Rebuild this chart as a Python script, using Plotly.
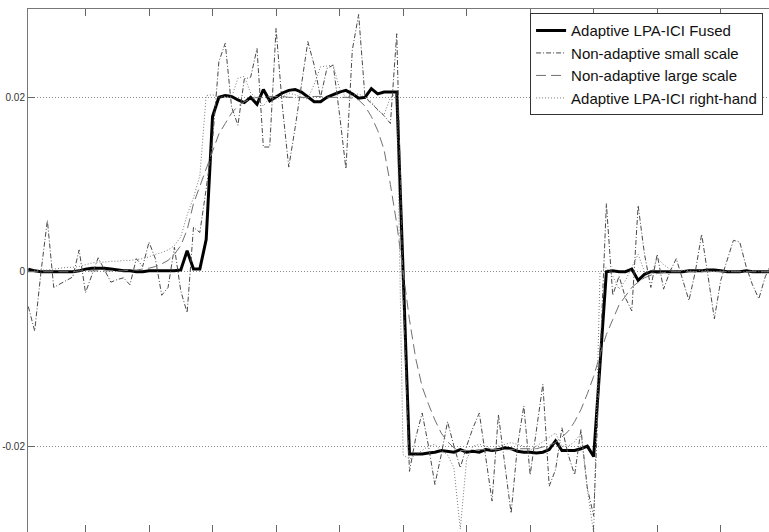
import plotly.graph_objects as go

# ---- data (sample index 1..118) ----
fused = [0.0003, 0.0001, 0.0000, 0.0000, 0.0000, 0.0000, 0.0000, 0.0000, 0.0001, 0.0003,
         0.0004, 0.0004, 0.0004, 0.0003, 0.0002, 0.0001, 0.0001, 0.0000, 0.0000, 0.0001,
         0.0001, 0.0001, 0.0001, 0.0001, 0.0002, 0.0024, 0.0003, 0.0003, 0.0037, 0.0178,
         0.0200, 0.0202, 0.0201, 0.0197, 0.0194, 0.0200, 0.0192, 0.0209, 0.0196, 0.0201,
         0.0205, 0.0208, 0.0209, 0.0206, 0.0200, 0.0195, 0.0195, 0.0200, 0.0203, 0.0206,
         0.0208, 0.0204, 0.0199, 0.0200, 0.0210, 0.0204, 0.0206, 0.0206, 0.0206, 0.0000,
         -0.0209, -0.0209, -0.0209, -0.0208, -0.0207, -0.0205, -0.0206, -0.0207, -0.0204, -0.0207,
         -0.0206, -0.0207, -0.0204, -0.0205, -0.0204, -0.0202, -0.0203, -0.0206, -0.0207, -0.0207,
         -0.0208, -0.0207, -0.0204, -0.0194, -0.0205, -0.0205, -0.0205, -0.0203, -0.0200, -0.0212,
         -0.0105, 0.0000, 0.0001, 0.0000, 0.0000, 0.0003, -0.0010, -0.0003, 0.0000, 0.0000,
         0.0000, 0.0000, 0.0000, 0.0000, 0.0001, 0.0001, 0.0001, 0.0002, 0.0002, 0.0001,
         0.0000, 0.0000, 0.0000, 0.0001, 0.0000, 0.0000, 0.0000, 0.0000]

small_scale = [-0.0040, -0.0068, 0.0000, 0.0059, -0.0018, -0.0014, -0.0010, -0.0006, 0.0025, -0.0024,
               -0.0004, 0.0016, 0.0002, -0.0012, -0.0009, -0.0007, -0.0015, 0.0015, 0.0006, 0.0034,
               0.0015, -0.0027, -0.0018, 0.0028, -0.0022, -0.0047, 0.0051, 0.0045, 0.0095, 0.0150,
               0.0241, 0.0262, 0.0189, 0.0168, 0.0221, 0.0223, 0.0256, 0.0143, 0.0143, 0.0279,
               0.0189, 0.0120, 0.0165, 0.0215, 0.0264, 0.0237, 0.0200, 0.0233, 0.0237, 0.0180,
               0.0118, 0.0254, 0.0295, 0.0200, 0.0193, 0.0185, 0.0179, 0.0170, 0.0273, -0.0020,
               -0.0229, -0.0190, -0.0162, -0.0200, -0.0244, -0.0210, -0.0172, -0.0200, -0.0225, -0.0200,
               -0.0179, -0.0162, -0.0210, -0.0263, -0.0164, -0.0220, -0.0277, -0.0200, -0.0154, -0.0233,
               -0.0180, -0.0129, -0.0246, -0.0227, -0.0179, -0.0210, -0.0233, -0.0181, -0.0248, -0.0280,
               -0.0100, 0.0078, -0.0027, -0.0005, -0.0030, -0.0045, 0.0076, 0.0020, -0.0018, 0.0020,
               -0.0020, 0.0000, 0.0015, -0.0010, -0.0033, 0.0000, 0.0043, -0.0005, -0.0054, -0.0010,
               0.0012, 0.0036, 0.0034, 0.0006, -0.0015, -0.0031, -0.0006, 0.0010]

large_scale = [0.0000, 0.0000, 0.0000, 0.0000, 0.0000, 0.0000, 0.0000, 0.0000, 0.0001, 0.0001,
               0.0001, 0.0001, 0.0001, 0.0001, 0.0001, 0.0001, 0.0002, 0.0002, 0.0003, 0.0004,
               0.0006, 0.0009, 0.0013, 0.0020, 0.0030, 0.0048, 0.0078, 0.0098, 0.0118, 0.0140,
               0.0158, 0.0170, 0.0182, 0.0190, 0.0195, 0.0198, 0.0200, 0.0200, 0.0201, 0.0201,
               0.0201, 0.0200, 0.0200, 0.0200, 0.0200, 0.0201, 0.0201, 0.0200, 0.0200, 0.0200,
               0.0200, 0.0199, 0.0197, 0.0190, 0.0178, 0.0162, 0.0140, 0.0100, 0.0055, 0.0000,
               -0.0055, -0.0100, -0.0132, -0.0152, -0.0170, -0.0185, -0.0195, -0.0202, -0.0205, -0.0205,
               -0.0205, -0.0204, -0.0204, -0.0204, -0.0204, -0.0204, -0.0204, -0.0203, -0.0203, -0.0203,
               -0.0203, -0.0201, -0.0199, -0.0196, -0.0190, -0.0183, -0.0172, -0.0158, -0.0140, -0.0120,
               -0.0095, -0.0072, -0.0055, -0.0038, -0.0028, -0.0018, -0.0012, -0.0007, -0.0004, -0.0002,
               -0.0001, 0.0000, 0.0000, 0.0000, 0.0000, 0.0000, 0.0000, 0.0000, 0.0000, 0.0000,
               0.0000, 0.0000, 0.0000, 0.0000, 0.0000, 0.0000, 0.0000, 0.0000]

right_hand = [0.0000, 0.0001, 0.0002, 0.0002, 0.0003, 0.0004, 0.0005, 0.0005, 0.0006, 0.0008,
              0.0010, 0.0011, 0.0011, 0.0012, 0.0012, 0.0013, 0.0013, 0.0014, 0.0015, 0.0017,
              0.0020, 0.0022, 0.0025, 0.0030, 0.0040, 0.0065, 0.0085, 0.0110, 0.0202, 0.0203,
              0.0200, 0.0201, 0.0200, 0.0222, 0.0224, 0.0205, 0.0199, 0.0190, 0.0200, 0.0198,
              0.0201, 0.0205, 0.0203, 0.0200, 0.0198, 0.0215, 0.0235, 0.0236, 0.0237, 0.0210,
              0.0200, 0.0202, 0.0204, 0.0200, 0.0195, 0.0185, 0.0180, 0.0200, 0.0205, -0.0210,
              -0.0215, -0.0210, -0.0205, -0.0200, -0.0198, -0.0205, -0.0210, -0.0225, -0.0295, -0.0215,
              -0.0200, -0.0198, -0.0200, -0.0205, -0.0200, -0.0198, -0.0196, -0.0198, -0.0200, -0.0205,
              -0.0200, -0.0195, -0.0190, -0.0185, -0.0200, -0.0200, -0.0195, -0.0185, -0.0250, -0.0300,
              0.0000, 0.0005, -0.0005, -0.0020, -0.0010, 0.0005, 0.0020, 0.0000, -0.0005, 0.0016,
              0.0008, 0.0003, 0.0000, 0.0002, 0.0001, 0.0000, 0.0002, 0.0001, 0.0000, 0.0001,
              0.0000, 0.0001, 0.0000, 0.0000, 0.0001, 0.0000, 0.0000, 0.0000]

x_ticks = [10, 20, 30, 40, 50, 60, 70, 80, 90, 100, 110]
y_ticks = [-0.02, 0, 0.02]
y_labels = ["-0.02", "0", "0.02"]


def idx(v):
    return list(range(1, len(v) + 1))


fig = go.Figure()
fig.add_trace(go.Scatter(x=idx(fused), y=fused, mode="lines", name="Adaptive LPA-ICI Fused",
                         line=dict(color="#000000", width=3)))
fig.add_trace(go.Scatter(x=idx(small_scale), y=small_scale, mode="lines", name="Non-adaptive small scale",
                         line=dict(color="#4a4a4a", width=1, dash="5px,2px,1px,2px")))
fig.add_trace(go.Scatter(x=idx(large_scale), y=large_scale, mode="lines", name="Non-adaptive large scale",
                         line=dict(color="#707070", width=1, dash="10px,5px")))
fig.add_trace(go.Scatter(x=idx(right_hand), y=right_hand, mode="lines", name="Adaptive LPA-ICI right-hand",
                         line=dict(color="#7a7a7a", width=1, dash="1px,2px")))

fig.update_layout(
    width=769, height=532,
    margin=dict(l=28, r=0, t=9, b=0, autoexpand=False),
    paper_bgcolor="white", plot_bgcolor="white",
    font=dict(family="Liberation Sans, Arial, sans-serif", color="#222"),
    showlegend=True,
    hovermode=False,
    legend=dict(x=0.992, y=0.992, xanchor="right", yanchor="top",
                bgcolor="white", bordercolor="#333", borderwidth=1,
                font=dict(size=15, color="#111"), tracegroupgap=0),
)
fig.update_xaxes(range=[0.95, 117.6], tickvals=x_ticks, showticklabels=False,
                 ticks="inside", ticklen=7, tickcolor="#666",
                 showline=True, linecolor="#777", linewidth=1, mirror="ticks",
                 showgrid=False, zeroline=False, automargin=False)
fig.update_yaxes(range=[-0.02985, 0.03013], tickvals=y_ticks, ticktext=y_labels,
                 ticks="inside", ticklen=7, tickcolor="#666",
                 tickfont=dict(size=10, color="#333"),
                 showline=True, linecolor="#777", linewidth=1, mirror=False,
                 showgrid=True, gridcolor="#8a8a8a", griddash="1px,2px", gridwidth=1,
                 zeroline=False, automargin=False)

# remove the default 8px page margin so the 769x532 figure fills the window exactly
fig.write_html("out.html", config={"displayModeBar": False},
               post_script="document.body.style.margin='0';")
